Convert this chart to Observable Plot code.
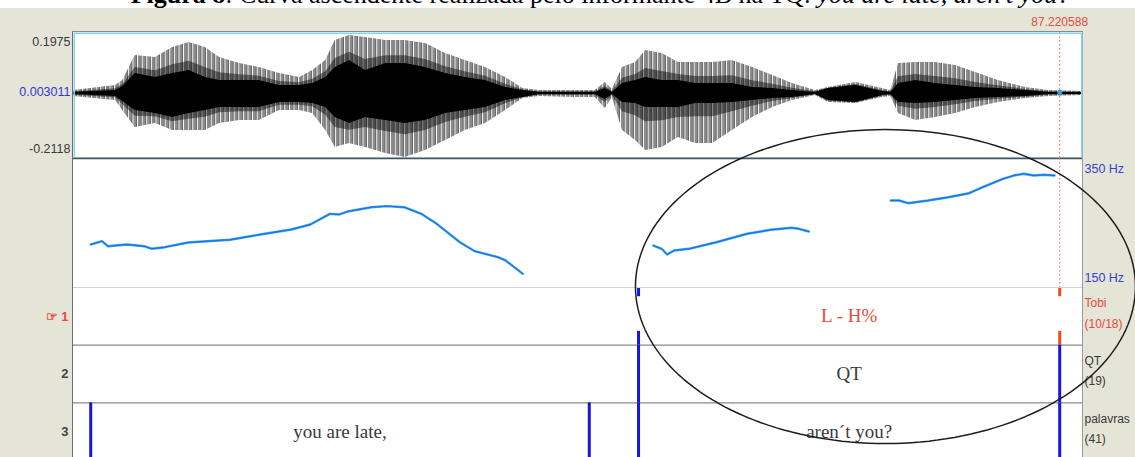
<!DOCTYPE html>
<html><head><meta charset="utf-8">
<script src="https://cdn.jsdelivr.net/npm/d3@7"></script>
<script src="https://cdn.jsdelivr.net/npm/@observablehq/plot@0.6"></script>
<style>
html,body{margin:0;padding:0;background:#fff;}
#wrap{position:relative;width:1135px;height:457px;overflow:hidden;background:#e4e4d7;font-family:"Liberation Sans",Arial,sans-serif;}
#titlebar{position:absolute;left:0;top:0;width:1135px;height:8px;background:#fff;overflow:hidden;}
#title{position:absolute;left:33px;width:1135px;top:-18px;text-align:center;font:26px/26px "Liberation Serif",serif;color:#000;white-space:nowrap;}
#panel{position:absolute;left:72px;top:31px;width:1009px;height:440px;background:#fff;border-left:1px solid #6d6d6d;border-top:1px solid #8a8a8a;border-right:1px solid #9a9a9a;}
.layer{position:absolute;left:0;}
</style></head><body>
<div id="wrap">
 <div id="titlebar"><div id="title"><b>Figura 8</b>: Curva ascendente realizada pelo informante 4B na TQ: <i>you are late, aren't you?</i></div></div>
 <div id="panel"></div>
 <div id="wave" class="layer" style="top:8px"></div>
 <div id="tiers" class="layer" style="top:287px"></div>
 <div id="pitch" class="layer" style="top:158px;z-index:5"></div>
</div>
<script>
// ---- time window (s) ----
const windowStart = 85.559, windowEnd = 87.259, cursorTime = 87.220588;

// ---- waveform envelope (s, amplitude) ----
const ampMin = -0.2118, ampMax = 0.1975, ampMid = 0.003011;
const waveTime = [85.559,85.630,85.642,85.663,85.697,85.726,85.754,85.781,85.805,85.839,85.872,85.906,85.940,85.962,85.984,86.000,86.024,86.051,86.085,86.118,86.152,86.186,86.219,86.253,86.287,86.316,86.344,86.405,86.438,86.455,86.467,86.484,86.506,86.523,86.551,86.578,86.607,86.636,86.669,86.703,86.737,86.770,86.809,86.831,86.877,86.922,86.936,86.949,86.978,87.011,87.045,87.079,87.117,87.163,87.202,87.259];
const outerHi = [0.0091,0.0253,0.0416,0.1228,0.1163,0.1488,0.1650,0.1488,0.1163,0.0968,0.0838,0.0643,0.0513,0.0741,0.1065,0.1715,0.1878,0.1813,0.1715,0.1715,0.1618,0.1293,0.1065,0.0838,0.0513,0.0156,0.0091,0.0091,0.0091,0.0351,0.0123,0.0838,0.1001,0.1390,0.1293,0.1001,0.1001,0.1001,0.1065,0.0838,0.0578,0.0318,0.0091,0.0188,0.0351,0.0156,0.0091,0.0968,0.1001,0.1001,0.0903,0.0676,0.0416,0.0188,0.0091,0.0058];
const outerLo = [-0.0104,-0.0234,-0.0559,-0.1111,-0.0981,-0.1208,-0.1208,-0.1208,-0.0981,-0.0884,-0.0884,-0.0559,-0.0559,-0.0656,-0.1208,-0.1761,-0.1631,-0.1761,-0.1956,-0.2086,-0.1858,-0.1533,-0.1208,-0.0981,-0.0559,-0.0169,-0.0104,-0.0136,-0.0136,-0.0494,-0.0136,-0.1208,-0.1533,-0.1858,-0.1761,-0.1436,-0.1631,-0.1631,-0.1208,-0.0786,-0.0461,-0.0234,-0.0071,-0.0299,-0.0331,-0.0136,-0.0104,-0.0656,-0.0884,-0.0786,-0.0656,-0.0461,-0.0299,-0.0169,-0.0104,-0.0071];
const coreHi = [0.0026,0.0091,0.0221,0.0643,0.0513,0.0643,0.0741,0.0513,0.0416,0.0416,0.0416,0.0253,0.0253,0.0318,0.0513,0.0838,0.1065,0.0741,0.0968,0.0968,0.0838,0.0643,0.0513,0.0416,0.0188,0.0091,0.0026,0.0026,0.0026,0.0156,0.0026,0.0318,0.0416,0.0513,0.0416,0.0416,0.0318,0.0318,0.0318,0.0188,0.0156,0.0091,0.0026,0.0156,0.0253,0.0058,0.0026,0.0318,0.0416,0.0318,0.0253,0.0188,0.0156,0.0091,0.0026,0.0026];
const coreLo = [-0.0039,-0.0104,-0.0266,-0.0559,-0.0656,-0.0786,-0.0656,-0.0559,-0.0461,-0.0461,-0.0461,-0.0299,-0.0299,-0.0331,-0.0461,-0.0786,-0.0981,-0.0786,-0.0884,-0.0981,-0.0884,-0.0656,-0.0559,-0.0461,-0.0234,-0.0136,-0.0039,-0.0039,-0.0039,-0.0201,-0.0039,-0.0299,-0.0331,-0.0461,-0.0461,-0.0461,-0.0331,-0.0331,-0.0299,-0.0234,-0.0169,-0.0136,-0.0039,-0.0234,-0.0299,-0.0071,-0.0039,-0.0299,-0.0331,-0.0299,-0.0234,-0.0169,-0.0136,-0.0104,-0.0039,-0.0039];

// ---- pitch (s, Hz) ----
const pitchMin = 150, pitchMax = 350;
const pitch1T = [85.588,85.607,85.617,85.649,85.678,85.691,85.713,85.752,85.784,85.823,85.874,85.926,85.958,85.991,86.007,86.023,86.061,86.087,86.116,86.145,86.171,86.210,86.235,86.274,86.287,86.316];
const pitch1Hz = [216.7,221.8,214.0,216.7,214.0,210.0,212.5,219.8,221.8,224.0,232.2,239.9,247.7,264.2,263.2,268.3,274.5,276.1,274.5,264.2,248.7,220.2,206.3,197.0,191.9,171.2];
const pitch2T = [86.536,86.550,86.559,86.571,86.596,86.642,86.694,86.734,86.769,86.781,86.798];
const pitch2Hz = [215.1,210.0,201.2,207.4,210.0,220.2,233.3,239.5,242.6,241.0,236.8];
const pitch3T = [86.936,86.950,86.965,86.999,87.033,87.068,87.091,87.125,87.143,87.160,87.177,87.194,87.212];
const pitch3Hz = [284.9,284.9,280.7,284.9,290.0,296.2,305.5,318.5,323.6,326.3,323.6,324.7,323.6];

// ---- annotation ellipse (centre s / Hz, radii s / Hz) ----
const ellipseCentre = [86.927, 151.5], ellipseRadii = [0.4212, 243.4];

// ---- TextGrid tiers ----
const tierNames = ["Tobi", "QT", "palavras"];
const tierCounts = ["(10/18)", "(19)", "(41)"];
const tierNumbers = ["\u261E 1", "2", "3"];
const tobiBounds = [86.511, 87.220588];
const qtBounds = [86.511, 87.220588];
const wordBounds = [85.588, 86.428, 86.511, 87.220588];
const tobiStart = [86.511], tobiEnd = [87.220588], tobiLabels = ["L - H%"];
const qtStart = [86.511], qtEnd = [87.220588], qtLabels = ["QT"];
const wordStart = [85.588, 86.511], wordEnd = [86.428, 87.220588], wordLabels = ["you are late,", "aren\u00B4t you?"];

const SANS = "'Liberation Sans', Arial, sans-serif";
const SERIF = "'Liberation Serif', 'Times New Roman', serif";
const RED = "#e84a3c", BLUE = "#1616e0", GREY = "#3a3a3a";

const common = {
  width: 1135, marginLeft: 73, marginRight: 53,
  x: {domain: [windowStart, windowEnd], axis: null},
  style: {background: "transparent", overflow: "visible", fontFamily: SANS}
};

// striation pattern imitating the individual glottal periods of the waveform
function stripeDefs() {
  const defs = d3.create("svg:defs");
  const p = defs.append("pattern").attr("id", "wavestripes").attr("patternUnits", "userSpaceOnUse")
    .attr("width", 4.6).attr("height", 300);
  p.append("rect").attr("x", 0).attr("y", 0).attr("width", 1.9).attr("height", 300).attr("fill", "#8c8c8c");
  p.append("rect").attr("x", 2.3).attr("y", 0).attr("width", 1.1).attr("height", 300).attr("fill", "#1a1a1a");
  return defs.node();
}

// ===== waveform =====
const wave = waveTime.map((t, i) => ({t, oh: outerHi[i], ol: outerLo[i], ch: coreHi[i], cl: coreLo[i]}));
document.getElementById("wave").append(Plot.plot({
  ...common, height: 150, marginTop: 24, marginBottom: 0,
  y: {domain: [ampMin, ampMax], axis: null},
  marks: [
    stripeDefs,
    Plot.areaY(wave, {x: "t", y1: "ol", y2: "oh", fill: "url(#wavestripes)"}),
    Plot.areaY(wave, {x: "t", y1: d => (d.ol + d.cl * 2) / 3, y2: d => (d.oh + d.ch * 2) / 3, fill: "#000", fillOpacity: 0.45}),
    Plot.areaY(wave, {x: "t", y1: "cl", y2: "ch", fill: "#000"}),
    Plot.ruleY([ampMid], {stroke: "#000", strokeWidth: 1}),
    Plot.ruleX([cursorTime], {stroke: "#ee5555", strokeDasharray: "1.5,2.5"}),
    Plot.dot([cursorTime], {x: d => d, y: () => ampMid, r: 2.5, fill: "#2fa0f0", stroke: null}),
    Plot.text([cursorTime], {x: d => d, frameAnchor: "top", dy: -15, text: d => String(d), fill: RED, fontSize: 12}),
    Plot.text([ampMax], {x: () => windowStart, y: d => d, text: d => String(d), dx: -3, dy: 9, textAnchor: "end", fill: GREY, fontSize: 12.5}),
    Plot.text([ampMid], {x: () => windowStart, y: d => d, text: d => String(d), dx: -3, textAnchor: "end", fill: "#3535d5", fontSize: 12.5}),
    Plot.text([ampMin], {x: () => windowStart, y: d => d, text: d => String(d), dx: -3, dy: -10, textAnchor: "end", fill: GREY, fontSize: 12.5}),
    Plot.frame({stroke: "#86d3f2", strokeWidth: 1.5, inset: 0.75})
  ]
}));

// ===== pitch =====
const pitch = [
  ...pitch1T.map((t, i) => ({t, hz: pitch1Hz[i], seg: 1})),
  ...pitch2T.map((t, i) => ({t, hz: pitch2Hz[i], seg: 2})),
  ...pitch3T.map((t, i) => ({t, hz: pitch3Hz[i], seg: 3}))
];
const ellipse = d3.range(0, 361, 2).map(a => ({
  t: ellipseCentre[0] + ellipseRadii[0] * Math.cos(a * Math.PI / 180),
  hz: ellipseCentre[1] + ellipseRadii[1] * Math.sin(a * Math.PI / 180)
}));
document.getElementById("pitch").append(Plot.plot({
  ...common, height: 129, marginTop: 0, marginBottom: 0,
  y: {domain: [pitchMin, pitchMax], axis: null},
  marks: [
    Plot.ruleY([pitchMin], {stroke: "#d2d2d2"}),
    Plot.ruleY([pitchMax], {stroke: "#505050", strokeWidth: 1.6}),
    Plot.ruleX([cursorTime], {stroke: "#ee5555", strokeDasharray: "1.5,2.5"}),
    Plot.line(pitch, {x: "t", y: "hz", z: "seg", stroke: "#2aa2f2", strokeWidth: 2.4}),
    Plot.line(pitch, {x: "t", y: "hz", z: "seg", stroke: "#2436d0", strokeWidth: 1, strokeOpacity: 0.55}),
    Plot.text([pitchMax], {x: () => windowEnd, y: d => d, text: d => d + " Hz", dx: 2, dy: 10, textAnchor: "start", fill: "#3c3cd6", fontSize: 12.5}),
    Plot.text([pitchMin], {x: () => windowEnd, y: d => d, text: d => d + " Hz", dx: 2, dy: -10, textAnchor: "start", fill: "#3c3cd6", fontSize: 12.5}),
    Plot.line(ellipse, {x: "t", y: "hz", stroke: "#1e1e1e", strokeWidth: 1.5})
  ]
}));

// ===== tiers =====
const segs = [];
tobiBounds.forEach(t => {
  const c = t === cursorTime ? "#f04a1e" : BLUE;
  segs.push({t, y1: 0, y2: 0.16, c}, {t, y1: 0.76, y2: 1, c});
});
qtBounds.forEach(t => segs.push({t, y1: 1, y2: 2, c: BLUE}));
wordBounds.forEach(t => segs.push({t, y1: 2, y2: 3, c: BLUE}));
const labels = [
  ...tobiLabels.map((s, i) => ({x: (tobiStart[i] + tobiEnd[i]) / 2, y: 0.5, s, c: RED})),
  ...qtLabels.map((s, i) => ({x: (qtStart[i] + qtEnd[i]) / 2, y: 1.5, s, c: GREY})),
  ...wordLabels.map((s, i) => ({x: (wordStart[i] + wordEnd[i]) / 2, y: 2.5, s, c: GREY}))
];
const tierIdx = tierNames.map((n, i) => i);
document.getElementById("tiers").append(Plot.plot({
  ...common, height: 173, marginTop: 0, marginBottom: 0,
  y: {domain: [0, 3], reverse: true, axis: null},
  marks: [
    Plot.ruleY([0], {stroke: "#d2d2d2"}),
    Plot.ruleY([1, 2], {stroke: "#8a8a8a", strokeWidth: 1.3}),
    Plot.ruleX(segs, {x: "t", y1: "y1", y2: "y2", stroke: "c", strokeWidth: 3}),
    Plot.text(labels, {x: "x", y: "y", text: "s", fill: "c", fontSize: 19, fontFamily: SERIF}),
    Plot.text(tierIdx, {x: () => windowStart, y: i => i + 0.5, text: i => tierNumbers[i], dx: -5, textAnchor: "end", fill: i => i === 0 ? RED : "#444", fontWeight: "bold", fontSize: 13}),
    Plot.text(tierIdx, {x: () => windowEnd, y: i => i + 0.28, text: i => tierNames[i], dx: 2, textAnchor: "start", fill: i => i === 0 ? RED : GREY, fontSize: 12}),
    Plot.text(tierIdx, {x: () => windowEnd, y: i => i + 0.63, text: i => tierCounts[i], dx: 2, textAnchor: "start", fill: i => i === 0 ? RED : GREY, fontSize: 12})
  ]
}));
</script>
</body></html>
